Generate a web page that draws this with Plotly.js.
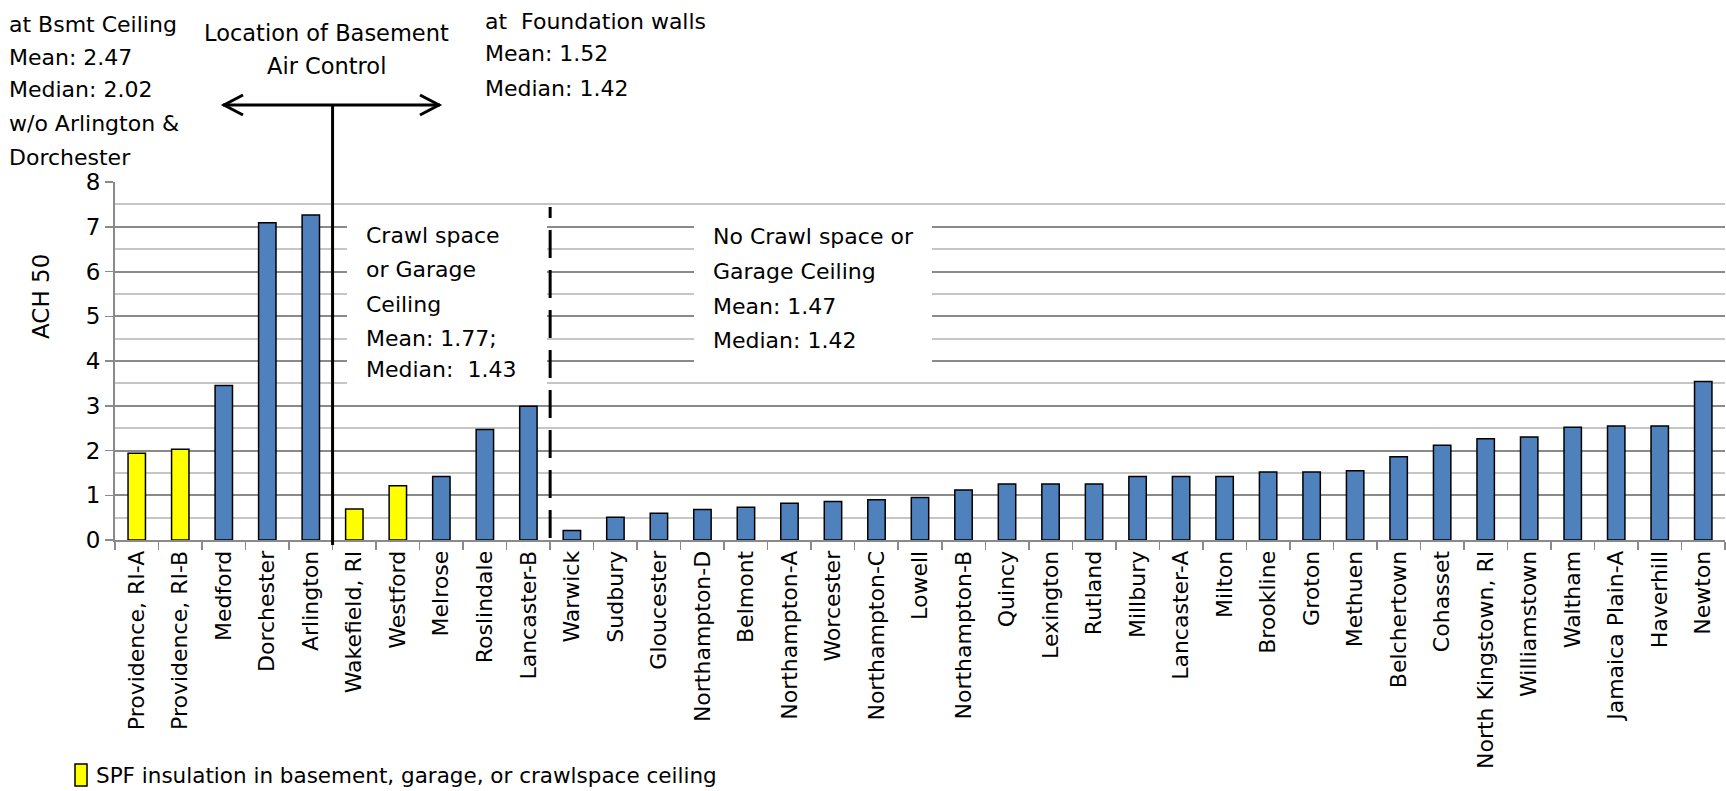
<!DOCTYPE html>
<html>
<head>
<meta charset="utf-8">
<script src="https://cdn.plot.ly/plotly-3.0.1.min.js"></script>
<style>html,body{margin:0;padding:0;background:#fff;}#chart{width:1726px;height:791px;}</style>
</head>
<body>
<div id="chart"></div>
<script>
// ---- data ----
const sites = ["Providence, RI-A","Providence, RI-B","Medford","Dorchester","Arlington",
  "Wakefield, RI","Westford","Melrose","Roslindale","Lancaster-B",
  "Warwick","Sudbury","Gloucester","Northampton-D","Belmont","Northampton-A","Worcester",
  "Northampton-C","Lowell","Northampton-B","Quincy","Lexington","Rutland","Millbury",
  "Lancaster-A","Milton","Brookline","Groton","Methuen","Belchertown","Cohasset",
  "North Kingstown, RI","Williamstown","Waltham","Jamaica Plain-A","Haverhill","Newton"];
const ach50 = [1.94,2.03,3.45,7.09,7.26,
  0.69,1.21,1.42,2.47,2.99,
  0.21,0.51,0.60,0.68,0.73,0.82,0.86,0.90,0.95,1.12,1.25,1.25,1.25,1.42,
  1.42,1.42,1.52,1.52,1.55,1.86,2.12,2.26,2.30,2.52,2.55,2.55,3.54];
const spfSites = ["Providence, RI-A","Providence, RI-B","Wakefield, RI","Westford"];
const yTicks = [0,1,2,3,4,5,6,7,8];
const groupEnds = [5,10]; // boundaries: basement ceiling | crawl space | no crawl space
const legendLabel = "SPF insulation in basement, garage, or crawlspace ceiling";
const noteBsmt = ["at Bsmt Ceiling","Mean: 2.47","Median: 2.02","w/o Arlington &","Dorchester"];
const noteLocation = ["Location of Basement","Air Control"];
const noteWalls = ["at  Foundation walls","Mean: 1.52","Median: 1.42"];
const noteCrawl = ["Crawl space","or Garage","Ceiling","Mean: 1.77;","Median:  1.43"];
const noteNoCrawl = ["No Crawl space or","Garage Ceiling","Mean: 1.47","Median: 1.42"];

// ---- layout geometry ----
const W = 1726, H = 791;
const M = {l:115, r:1, t:182, b:251};
const PW = W - M.l - M.r, PH = H - M.t - M.b;
const px = x => (x - M.l) / PW;          // pixel -> paper x
const py = y => (H - M.b - y) / PH;      // pixel -> paper y
const FONT = "DejaVu Sans, Verdana, sans-serif";
const BLUE = "#4f81bd", YELLOW = "#ffff00";

const colors = sites.map(s => spfSites.includes(s) ? YELLOW : BLUE);

const trace = {
  type: "bar", x: sites, y: ach50,
  marker: {color: colors, line: {color: "#000", width: 1.5}},
  showlegend: false, hoverinfo: "x+y"
};

const annotations = [];
function lines(arr, x, ys, anchor, size) {
  arr.forEach((t, i) => annotations.push({
    xref: "paper", yref: "paper", x: px(x), y: py(ys[i]),
    xanchor: anchor, yanchor: "middle", showarrow: false, text: t,
    font: {family: FONT, size: size || 22, color: "#000"}
  }));
}
lines(noteBsmt, 7, [24, 57, 90, 124, 157], "left");
lines(noteLocation, 326, [33, 66], "center", 22.5);
lines(noteWalls, 483, [21, 54, 88], "left");
lines(noteCrawl, 364, [235, 269, 304, 338, 369], "left");
lines(noteNoCrawl, 711, [236, 271, 306, 340], "left");
lines([legendLabel], 94, [775], "left", 21.5);
annotations.push({
  xref: "paper", yref: "paper", x: px(41), y: py(297), textangle: -90,
  xanchor: "center", yanchor: "middle", showarrow: false, text: "ACH 50",
  font: {family: FONT, size: 23, color: "#000"}
});

const n = sites.length;
const shapes = [
  // white text boxes
  {type: "rect", xref: "paper", yref: "paper", x0: px(347), x1: px(547), y0: py(397), y1: py(208),
   fillcolor: "#fff", line: {width: 0}, layer: "above"},
  {type: "rect", xref: "paper", yref: "paper", x0: px(694), x1: px(932), y0: py(370), y1: py(210),
   fillcolor: "#fff", line: {width: 0}, layer: "above"},
  // solid separator
  {type: "line", xref: "paper", yref: "paper", x0: groupEnds[0]/n, x1: groupEnds[0]/n,
   y0: py(545), y1: py(105), line: {color: "#000", width: 3}, layer: "above"},
  // dashed separator
  {type: "line", xref: "paper", yref: "paper", x0: groupEnds[1]/n, x1: groupEnds[1]/n,
   y0: py(538), y1: py(207), line: {color: "#000", width: 3, dash: "28px,12px"}, layer: "above"},
  // double arrow
  {type: "line", xref: "paper", yref: "paper", x0: px(223), x1: px(440), y0: py(105), y1: py(105),
   line: {color: "#000", width: 3}, layer: "above"},
  {type: "path", xref: "paper", yref: "paper",
   path: `M ${px(243)} ${py(95)} L ${px(224)} ${py(105)} L ${px(243)} ${py(115)}`,
   line: {color: "#000", width: 3}, layer: "above"},
  {type: "path", xref: "paper", yref: "paper",
   path: `M ${px(420)} ${py(95)} L ${px(439)} ${py(105)} L ${px(420)} ${py(115)}`,
   line: {color: "#000", width: 3}, layer: "above"},
  // legend swatch
  {type: "rect", xref: "paper", yref: "paper", x0: px(75), x1: px(87), y0: py(786), y1: py(764),
   fillcolor: YELLOW, line: {color: "#000", width: 1.5}, layer: "above"}
];

const layout = {
  width: W, height: H,
  margin: M,
  paper_bgcolor: "#fff", plot_bgcolor: "#fff",
  font: {family: FONT, color: "#000"},
  bargap: 0.6,
  showlegend: false,
  xaxis: {
    type: "category", tickangle: -90, tickson: "boundaries",
    ticks: "outside", ticklen: 8, tickwidth: 1.5, tickcolor: "#8a8a8a",
    showline: true, linecolor: "#8a8a8a", linewidth: 2,
    showgrid: false, zeroline: false,
    tickfont: {family: FONT, size: 22, color: "#000"},
    range: [-0.5, n - 0.5], fixedrange: true
  },
  yaxis: {
    range: [0, 8], tickvals: yTicks, ticktext: yTicks.map(String),
    ticks: "outside", ticklen: 8, tickwidth: 1.5, tickcolor: "#8a8a8a",
    showline: true, linecolor: "#8a8a8a", linewidth: 2,
    showgrid: true, gridcolor: "#8a8a8a", gridwidth: 2,
    minor: {dtick: 0.5, showgrid: true, gridcolor: "#c6c6c6", gridwidth: 2, ticks: ""},
    zeroline: false,
    tickfont: {family: FONT, size: 23, color: "#000"},
    fixedrange: true
  },
  annotations: annotations,
  shapes: shapes
};

Plotly.newPlot("chart", [trace], layout, {displayModeBar: false, staticPlot: true});
</script>
</body>
</html>
